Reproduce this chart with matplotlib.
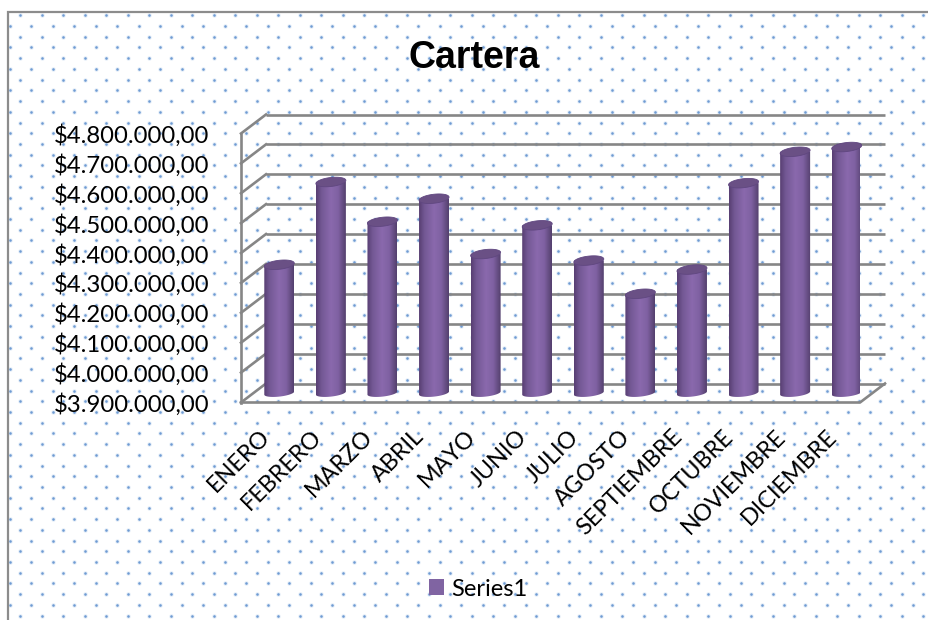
# -*- coding: utf-8 -*-
import matplotlib
matplotlib.use('Agg')
import matplotlib.pyplot as plt
import numpy as np
from matplotlib.colors import LinearSegmentedColormap
from matplotlib.patches import Patch, Polygon, PathPatch
from matplotlib.path import Path
from matplotlib.transforms import Affine2D

meses = ['ENERO', 'FEBRERO', 'MARZO', 'ABRIL', 'MAYO', 'JUNIO', 'JULIO', 'AGOSTO',
         'SEPTIEMBRE', 'OCTUBRE', 'NOVIEMBRE', 'DICIEMBRE']
cartera = [4329000, 4606000, 4473000, 4550000, 4365000, 4461000, 4343000, 4232000,
           4313000, 4602000, 4707000, 4723000]
ticks = [3900000, 4000000, 4100000, 4200000, 4300000, 4400000, 4500000, 4600000, 4700000, 4800000]
tick_labels = ['$3.900.000,00', '$4.000.000,00', '$4.100.000,00', '$4.200.000,00', '$4.300.000,00',
               '$4.400.000,00', '$4.500.000,00', '$4.600.000,00', '$4.700.000,00', '$4.800.000,00']

W, H = 929, 620
GRIS = '#868686'
MORADO = '#8064a2'

fig = plt.figure(figsize=(W / 100, H / 100), dpi=100, facecolor='white')

# fondo punteado y marco
bg = fig.add_axes([0, 0, 1, 1], zorder=-1)
bg.set_xlim(0, W)
bg.set_ylim(H, 0)
bg.axis('off')
px, py = [], []
for i, y in enumerate(np.arange(15.3, H, 10.72)):
    start = 20.3 if i % 2 == 0 else 9.8
    for x in np.arange(start, W, 21.5):
        px.append(x)
        py.append(y)
bg.scatter(px, py, s=10, c='#e2ecf7', linewidths=0)
bg.scatter(px, py, s=3.4, c='#6f9bd3', linewidths=0)
bg.plot([8.5, 8.5, W], [H, 11.5, 11.5], color='#8c8c8c', lw=1.6, solid_joinstyle='miter')

# ejes en el plano frontal
ax = fig.add_axes([241 / W, 1 - 402.5 / H, 619 / W, 269 / H])
ax.patch.set_alpha(0)
for s in ax.spines.values():
    s.set_visible(False)
ax.set_xlim(-0.5, 11.5)
ax.set_ylim(ticks[0], ticks[-1])

px_x = 12.0 / 619          # unidades de categoria por pixel
px_y = (ticks[-1] - ticks[0]) / 269.0
dx = 25 * px_x
dy = 19 * px_y
lw_g = 1.9

x0, x1 = -0.5, 11.5
for v in ticks:
    ax.plot([x0 + dx, x1 + dx], [v + dy, v + dy], color=GRIS, lw=lw_g, clip_on=False, zorder=1, solid_capstyle='butt')
    ax.plot([x0, x0 + dx], [v, v + dy], color=GRIS, lw=lw_g, clip_on=False, zorder=1)
ax.plot([x0, x0], [ticks[0], ticks[-1]], color=GRIS, lw=lw_g, clip_on=False, zorder=1)
ax.plot([x0, x1, x1 + dx], [ticks[0], ticks[0], ticks[0] + dy], color=GRIS, lw=lw_g, clip_on=False, zorder=1)

# cilindros, a media profundidad
cmap = LinearSegmentedColormap.from_list('cil', [(0, '#583f73'), (0.18, '#735894'), (0.5, '#8a69ad'),
                                                (0.75, '#7f61a2'), (1, '#54406e')])
grad = np.linspace(0, 1, 64).reshape(1, -1)
t = np.linspace(0, 2 * np.pi, 80)
ancho = 30 * px_x
alto = 4.5 * px_y
incl = 1.6 * px_y
base = ticks[0] + dy / 2
for i, v in enumerate(cartera):
    cx = i + dx / 2
    top = v + dy / 2
    ex = ancho / 2 * np.cos(t)
    ey = alto * np.sin(t) + incl * np.cos(t)
    # cuerpo
    low = t[t >= np.pi]
    verts = [(cx - ancho / 2, top), (cx + ancho / 2, top)]
    t_inf = low[::-1]
    verts += [(cx + ancho / 2 * np.cos(a), base + alto * 0.8 * np.sin(a) + incl * np.cos(a)) for a in t_inf]
    verts.append((cx - ancho / 2, top))
    clip = PathPatch(Path(verts), transform=ax.transData, facecolor='none', edgecolor='none')
    ax.add_patch(clip)
    im = ax.imshow(grad, cmap=cmap, aspect='auto', extent=(cx - ancho / 2, cx + ancho / 2, base - 2 * alto, top),
                   zorder=3)
    im.set_clip_path(clip)
    ax.add_patch(Polygon(np.column_stack([cx + ex, top + ey]), closed=True, facecolor='#6a5085',
                         edgecolor='#604780', lw=0.6, zorder=4, clip_on=False))
ax.set_xlim(-0.5, 11.5)
ax.set_ylim(ticks[0], ticks[-1])

ax.set_yticks(ticks)
ax.set_yticklabels(tick_labels, fontfamily='Lato', fontsize=17.2, color='black')
ax.tick_params(axis='y', length=0, pad=23)
ax.set_xticks(range(len(meses)))
ax.set_xticklabels(meses, fontfamily='Lato', fontsize=16.8, color='black', rotation=45, ha='right',
                   rotation_mode='anchor', va='top')
ax.tick_params(axis='x', length=0, pad=17)
for lab in ax.get_xticklabels():
    lab.set_transform(lab.get_transform() + Affine2D().translate(-8, 0))

fig.text(474 / W, 1 - 57.5 / H, 'Cartera', fontfamily='Liberation Sans', fontweight='bold', fontsize=27,
         ha='center', va='center', color='black')

fig.legend(handles=[Patch(facecolor=MORADO, label='Series1')], loc='center', bbox_to_anchor=(478 / W, 1 - 589 / H),
           frameon=False, handlelength=0.64, handleheight=0.64, handletextpad=0.3, borderpad=0,
           prop={'family': 'Lato', 'size': 17})

plt.savefig('out.png', dpi=100)
plt.close(fig)
